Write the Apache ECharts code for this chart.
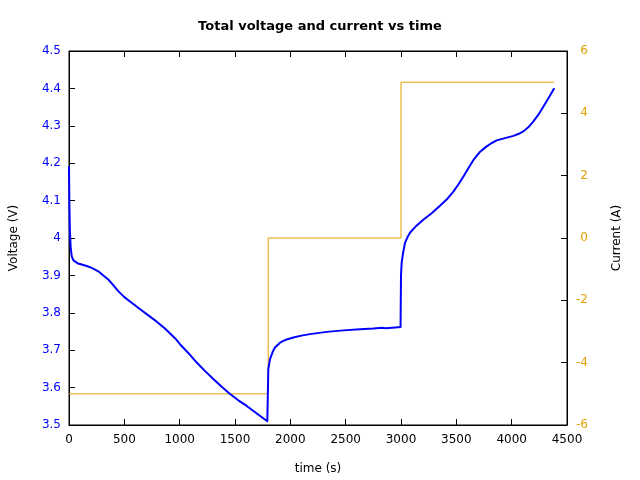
<!DOCTYPE html>
<html>
<head>
<meta charset="utf-8">
<script src="https://cdn.jsdelivr.net/npm/echarts@6/dist/echarts.min.js"></script>
<style>html,body{margin:0;padding:0;background:#fff;}#c{width:640px;height:480px;}</style>
</head>
<body>
<div id="c"></div>
<script>
const title = 'Total voltage and current vs time';
const xTicks = [0, 500, 1000, 1500, 2000, 2500, 3000, 3500, 4000, 4500];
const time = [0, 3, 8, 15, 25, 40, 55, 80, 115, 160, 205, 265, 310, 355, 400, 445, 500, 566, 640, 717, 790, 867, 958, 1003, 1080, 1154, 1230, 1304, 1380, 1455, 1530, 1606, 1700, 1792, 1797, 1801, 1816, 1840, 1861, 1907, 1960, 2027, 2100, 2178, 2329, 2480, 2630, 2750, 2830, 2845, 2860, 2875, 2950, 2996, 3000, 3006, 3020, 3036, 3060, 3081, 3140, 3201, 3280, 3352, 3420, 3473, 3518, 3563, 3610, 3653, 3710, 3774, 3820, 3865, 3940, 4015, 4060, 4105, 4150, 4195, 4240, 4286, 4335, 4382];
const voltage = [4.19, 4.10, 4.02, 3.975, 3.951, 3.940, 3.935, 3.932, 3.929, 3.925, 3.920, 3.911, 3.900, 3.889, 3.874, 3.858, 3.842, 3.827, 3.810, 3.793, 3.777, 3.758, 3.732, 3.716, 3.692, 3.667, 3.644, 3.623, 3.602, 3.583, 3.566, 3.551, 3.530, 3.510, 3.510, 3.649, 3.676, 3.695, 3.707, 3.720, 3.728, 3.734, 3.739, 3.743, 3.749, 3.753, 3.756, 3.758, 3.760, 3.762, 3.759, 3.760, 3.761, 3.762, 3.900, 3.934, 3.962, 3.987, 4.003, 4.014, 4.033, 4.049, 4.067, 4.086, 4.105, 4.124, 4.143, 4.164, 4.187, 4.208, 4.229, 4.245, 4.254, 4.261, 4.267, 4.273, 4.278, 4.285, 4.296, 4.311, 4.329, 4.351, 4.375, 4.399];
const timeI = [0, 1800, 3000, 4385];
const current = [-5, 0, 5, 5];

const FONT = 'DejaVu Sans';
const chart = echarts.init(document.getElementById('c'), null, {renderer: 'canvas'});
chart.setOption({
  animation: false,
  backgroundColor: '#fff',
  title: {
    text: title, left: 'center', top: 15,
    textStyle: {fontFamily: FONT, fontSize: 13, fontWeight: 'bold', color: '#000'}
  },
  grid: {left: 69, right: 73, top: 51, bottom: 54, show: true, borderColor: '#000', borderWidth: 1, backgroundColor: 'transparent'},
  xAxis: [{
    type: 'value', min: xTicks[0], max: xTicks[xTicks.length - 1], interval: 500,
    name: 'time (s)', nameLocation: 'middle', nameGap: 38,
    nameTextStyle: {fontFamily: FONT, fontSize: 12, color: '#000'},
    axisLine: {show: true, onZero: false, lineStyle: {color: '#000', width: 1}},
    axisTick: {show: true, inside: true, length: 6, lineStyle: {color: '#000'}},
    axisLabel: {fontFamily: FONT, fontSize: 12, color: '#000', margin: 9, formatter: v => String(v)},
    splitLine: {show: false}
  }, {
    type: 'value', position: 'top', min: xTicks[0], max: xTicks[xTicks.length - 1], interval: 500,
    axisLine: {show: true, onZero: false, lineStyle: {color: '#000', width: 1}},
    axisTick: {show: true, inside: true, length: 6, lineStyle: {color: '#000'}},
    axisLabel: {show: false},
    splitLine: {show: false}
  }],
  yAxis: [{
    type: 'value', position: 'left', min: 3.5, max: 4.5, interval: 0.1,
    name: 'Voltage (V)', nameLocation: 'middle', nameGap: 49, nameRotate: 90,
    nameTextStyle: {fontFamily: FONT, fontSize: 12, color: '#000'},
    axisLine: {show: true, onZero: false, lineStyle: {color: '#000', width: 1}},
    axisTick: {show: true, inside: true, length: 6, lineStyle: {color: '#000'}},
    axisLabel: {fontFamily: FONT, fontSize: 12, color: '#0000ff', margin: 8,
      formatter: v => String(+(+v).toFixed(1))},
    splitLine: {show: false}
  }, {
    type: 'value', position: 'right', min: -6, max: 6, interval: 2,
    name: 'Current (A)', nameLocation: 'middle', nameGap: 44, nameRotate: 90,
    nameTextStyle: {fontFamily: FONT, fontSize: 12, color: '#000'},
    axisLine: {show: true, onZero: false, lineStyle: {color: '#000', width: 1}},
    axisTick: {show: true, inside: true, length: 6, lineStyle: {color: '#000'}},
    axisLabel: {fontFamily: FONT, fontSize: 12, color: '#e69f00', margin: 21, align: 'right'},
    splitLine: {show: false}
  }],
  series: [{
    name: 'Current', type: 'line', xAxisIndex: 0, yAxisIndex: 1, step: 'end',
    showSymbol: false, symbol: 'none',
    lineStyle: {color: '#e69f00', width: 1},
    data: timeI.map((t, i) => [t, current[i]])
  }, {
    name: 'Voltage', type: 'line', xAxisIndex: 0, yAxisIndex: 0,
    showSymbol: false, symbol: 'none', smooth: false,
    lineStyle: {color: '#0000ff', width: 2, join: 'round', cap: 'round'},
    data: time.map((t, i) => [t, voltage[i]])
  }]
});
</script>
</body>
</html>
